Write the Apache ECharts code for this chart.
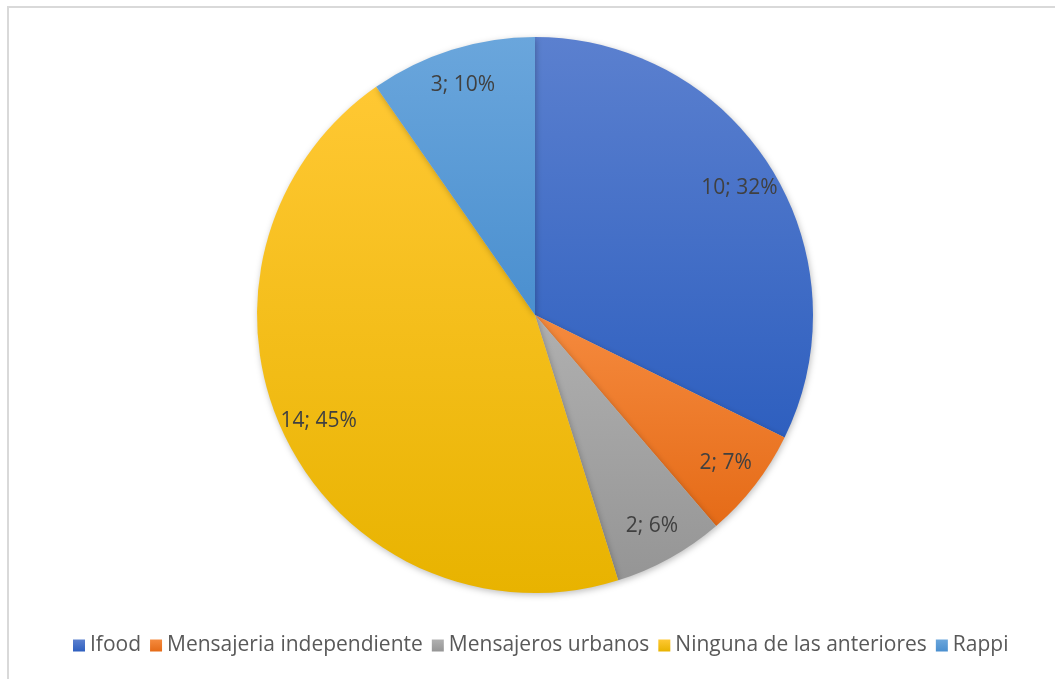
<!DOCTYPE html>
<html lang="es">
<head>
  <meta charset="UTF-8">
  <title>Pie</title>
  <style>
    html, body { margin: 0; padding: 0; background: #fff; }
    #chart { width: 1055px; height: 679px; }
  </style>
</head>
<body>
  <div id="chart"></div>
  <script src="https://cdn.jsdelivr.net/npm/echarts@6/dist/echarts.min.js"></script>
  <script>
    var categories = ['Ifood', 'Mensajeria independiente', 'Mensajeros urbanos', 'Ninguna de las anteriores', 'Rappi'];
    var values = [10, 2, 2, 14, 3];
    // colores tipo Excel: arriba mas claro, abajo mas oscuro
    var colorsTop = ['#5b80cf', '#f58a3e', '#b0b0b0', '#ffc833', '#6aa6dc'];
    var colorsBottom = ['#2e5fbf', '#e56b17', '#959595', '#e8b300', '#4a8fcf'];

    function grad(i) {
      return new echarts.graphic.LinearGradient(0, 0, 0, 1, [
        { offset: 0, color: colorsTop[i] },
        { offset: 1, color: colorsBottom[i] }
      ]);
    }

    var pieData = categories.map(function (name, i) {
      return { name: name, value: values[i], itemStyle: { color: grad(i) } };
    });
    var labelData = categories.map(function (name, i) {
      return { name: name, value: values[i] };
    });

    var myChart = echarts.init(document.getElementById('chart'));
    var font = 'Open Sans, Liberation Sans, sans-serif';

    var option = {
      animation: false,
      graphic: [{
        type: 'rect',
        shape: { x: 8, y: 7, width: 1100, height: 700 },
        style: { fill: 'none', stroke: '#d9d9d9', lineWidth: 2 },
        z: -1
      }],
      legend: {
        bottom: 18,
        left: 68,
        itemWidth: 12,
        itemHeight: 12,
        itemGap: 9,
        icon: 'rect',
        textStyle: { color: '#595959', fontSize: 21, fontFamily: font },
        data: categories.map(function (n, i) {
          return { name: n, itemStyle: { color: grad(i) } };
        })
      },
      series: [{
        name: 'pie',
        type: 'pie',
        center: [535, 315],
        radius: [0, 278],
        startAngle: 90,
        clockwise: true,
        silent: true,
        label: { show: false },
        labelLine: { show: false },
        itemStyle: {
          shadowColor: 'rgba(0,0,0,0.25)',
          shadowBlur: 6,
          shadowOffsetX: 1,
          shadowOffsetY: 2
        },
        data: pieData
      }, {
        // serie transparente solo para colocar las etiquetas
        name: 'labels',
        type: 'pie',
        center: [535, 315],
        radius: [196, 280],
        startAngle: 90,
        clockwise: true,
        silent: true,
        percentPrecision: 0,
        itemStyle: { color: 'rgba(0,0,0,0)' },
        label: {
          show: true,
          position: 'inside',
          formatter: '{c}; {d}%',
          color: '#404040',
          fontSize: 21,
          fontFamily: font
        },
        labelLine: { show: false },
        data: labelData
      }]
    };
    myChart.setOption(option);
  </script>
</body>
</html>
